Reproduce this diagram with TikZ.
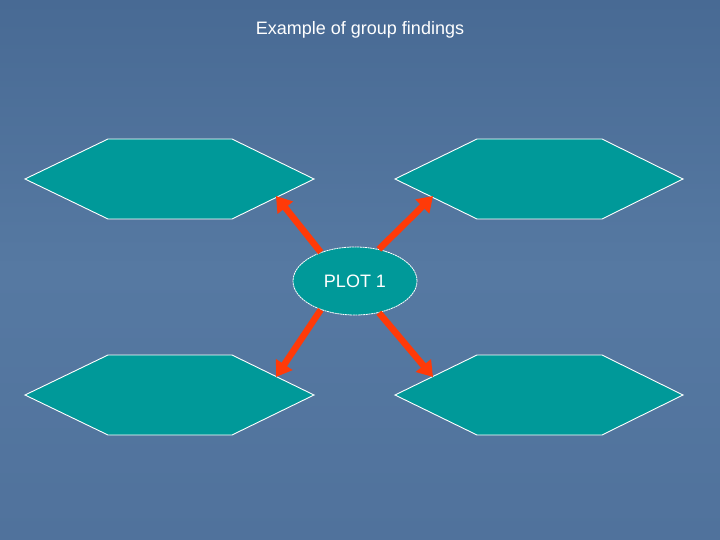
\documentclass[tikz,border=0pt]{standalone}
\usepackage{fontspec}
\setmainfont{Liberation Sans}
\usetikzlibrary{arrows.meta,shapes.geometric}
\definecolor{bgtop}{RGB}{72,106,148}
\definecolor{bgmid}{RGB}{86,121,162}
\definecolor{bgbot}{RGB}{80,114,156}
\definecolor{tealfill}{RGB}{0,153,153}
\definecolor{arrowred}{RGB}{255,58,8}
\tikzset{
  hexbox/.style={fill=tealfill,draw=white,line width=0.9pt,line join=miter},
  plotnode/.style={ellipse,fill=tealfill,draw=white,line width=0.8pt,dash pattern=on 2pt off 0.6pt,
     minimum width=124pt,minimum height=68pt,inner sep=0pt,text=white,font=\fontsize{18}{20}\selectfont},
  redarrow/.style={draw=arrowred,line width=6.5pt,-{Triangle[width=19pt,length=15pt]}},
  titletext/.style={text=white,font=\fontsize{18}{20}\selectfont}
}
\begin{document}
\begin{tikzpicture}[x=1pt,y=-1pt]
\useasboundingbox (0,0) rectangle (720,540);
\shade[top color=bgtop,bottom color=bgmid] (0,0) rectangle (720,270);
\shade[top color=bgmid,bottom color=bgbot] (0,270) rectangle (720,540);
% hexagons
\draw[hexbox] (25,179) -- (108,139) -- (232,139) -- (314,179) -- (232,219) -- (108,219) -- cycle;
\draw[hexbox] (395,179) -- (477,139) -- (602,139) -- (683,179) -- (602,219) -- (477,219) -- cycle;
\draw[hexbox] (25,395) -- (108,355) -- (232,355) -- (314,395) -- (232,435) -- (108,435) -- cycle;
\draw[hexbox] (395,395) -- (477,355) -- (602,355) -- (683,395) -- (602,435) -- (477,435) -- cycle;
\coordinate (tl) at (276,196);
\coordinate (tr) at (433,196);
\coordinate (bl) at (276,377);
\coordinate (br) at (433,377);
\node[titletext] (title) at (360,30) {Example of group findings};
\node[plotnode] (plot) at (355,281) {PLOT 1};
\draw[redarrow] (plot.140) -- (tl);
\draw[redarrow] (plot.53) -- (tr);
\draw[redarrow] (plot.220) -- (bl);
\draw[redarrow] (plot.307) -- (br);
\end{tikzpicture}
\end{document}
